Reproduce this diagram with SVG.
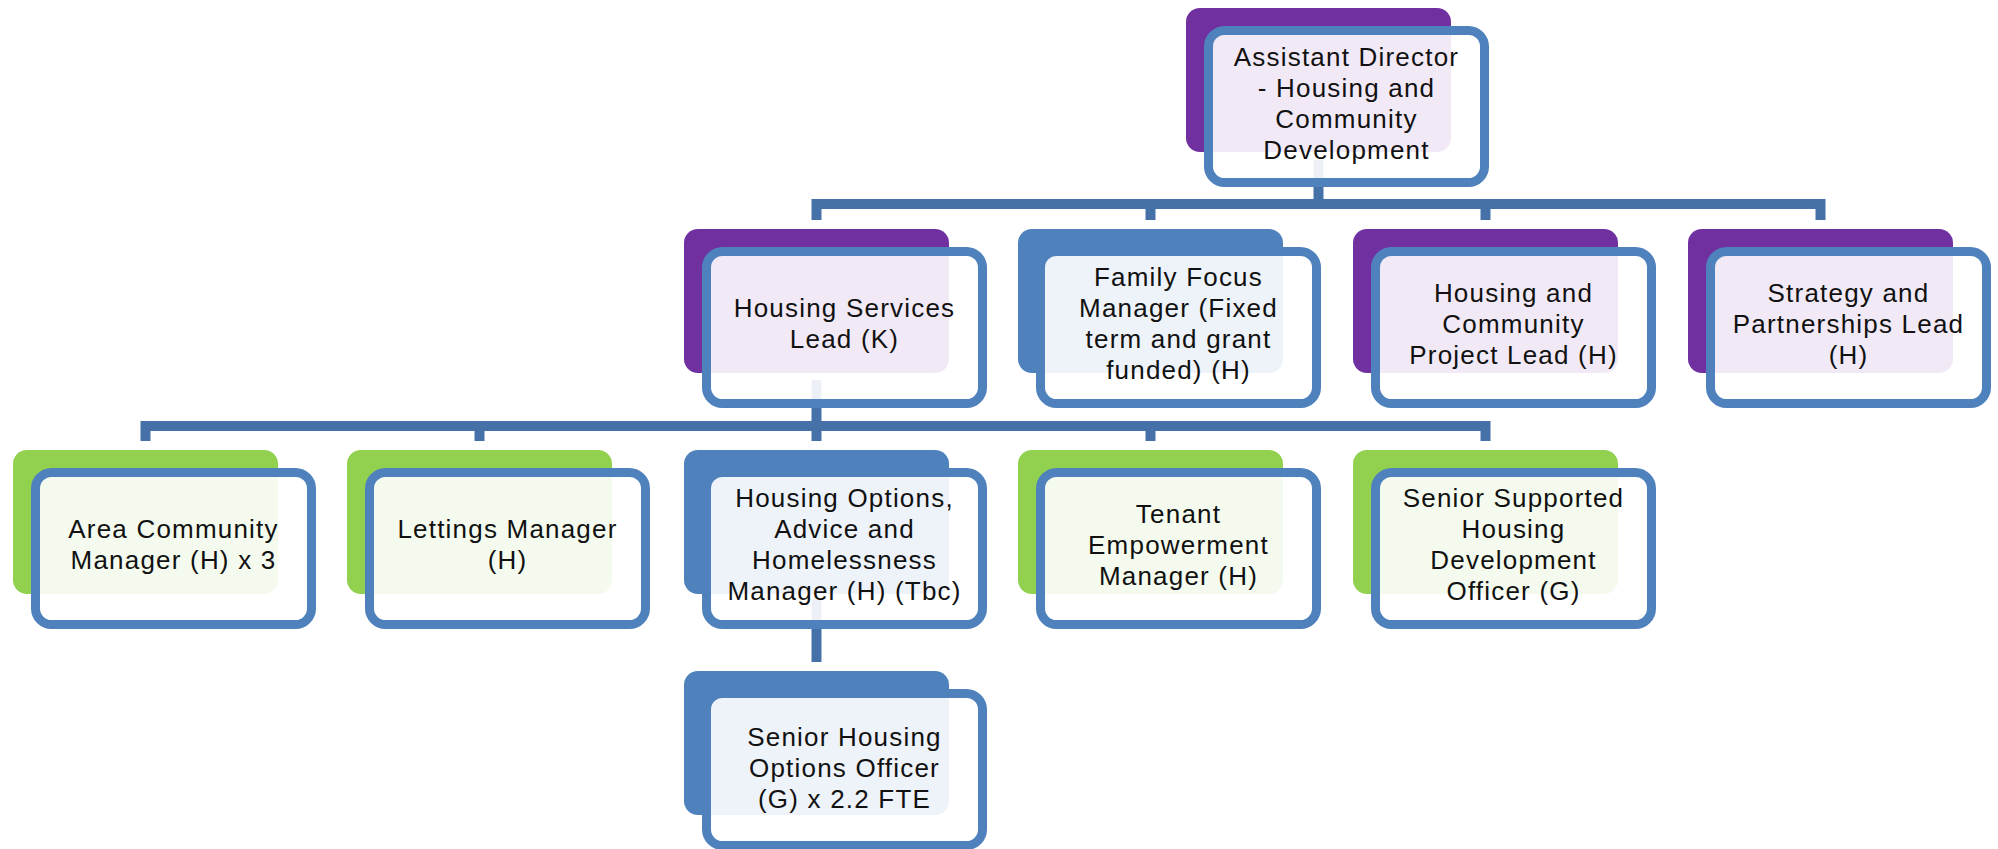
<svg xmlns="http://www.w3.org/2000/svg" width="1998" height="849" viewBox="0 0 1998 849">
<style>
.bg{fill:#ffffff}
.conn{fill:none;stroke:#4571A8;stroke-width:10;stroke-linejoin:miter;stroke-linecap:butt}
.back{stroke:none}
.purple{fill:#7030A0}
.blue{fill:#4F81BD}
.green{fill:#92D050}
.front{fill:#ffffff;fill-opacity:0.9;stroke:#4F81BD;stroke-width:9}
.lbl{font-family:"Liberation Sans",Arial,sans-serif;font-size:26px;letter-spacing:1.2px;fill:#111111;text-anchor:middle}
</style>
<rect class="bg" x="0" y="0" width="1998" height="849"/>
<g id="connectors">
<path class="conn" d="M1318.5,160 V204"/>
<path class="conn" d="M816.5,220 V204 H1820.5 V220"/>
<path class="conn" d="M1150.5,204 V220"/>
<path class="conn" d="M1485.5,204 V220"/>
<path class="conn" d="M816.5,380 V426"/>
<path class="conn" d="M145.5,441 V426 H1485.5 V441"/>
<path class="conn" d="M479.5,426 V441"/>
<path class="conn" d="M816.5,426 V441"/>
<path class="conn" d="M1150.5,426 V441"/>
<path class="conn" d="M816.5,600 V662"/>
</g>
<g id="node-assistant-director">
<rect class="back purple" x="1186" y="8" width="265" height="144" rx="14"/>
<rect class="front" x="1208.5" y="30.5" width="276" height="152" rx="16"/>
<text class="lbl"><tspan x="1346.5" y="66">Assistant Director</tspan><tspan x="1346.5" y="97">- Housing and</tspan><tspan x="1346.5" y="128">Community</tspan><tspan x="1346.5" y="159">Development</tspan></text>
</g>
<g id="node-housing-services-lead">
<rect class="back purple" x="684" y="229" width="265" height="144" rx="14"/>
<rect class="front" x="706.5" y="251.5" width="276" height="152" rx="16"/>
<text class="lbl"><tspan x="844.5" y="317">Housing Services</tspan><tspan x="844.5" y="348">Lead (K)</tspan></text>
</g>
<g id="node-family-focus-manager">
<rect class="back blue" x="1018" y="229" width="265" height="144" rx="14"/>
<rect class="front" x="1040.5" y="251.5" width="276" height="152" rx="16"/>
<text class="lbl"><tspan x="1178.5" y="286">Family Focus</tspan><tspan x="1178.5" y="317">Manager (Fixed</tspan><tspan x="1178.5" y="348">term and grant</tspan><tspan x="1178.5" y="379">funded) (H)</tspan></text>
</g>
<g id="node-housing-community-project-lead">
<rect class="back purple" x="1353" y="229" width="265" height="144" rx="14"/>
<rect class="front" x="1375.5" y="251.5" width="276" height="152" rx="16"/>
<text class="lbl"><tspan x="1513.5" y="301.5">Housing and</tspan><tspan x="1513.5" y="332.5">Community</tspan><tspan x="1513.5" y="363.5">Project Lead (H)</tspan></text>
</g>
<g id="node-strategy-partnerships-lead">
<rect class="back purple" x="1688" y="229" width="265" height="144" rx="14"/>
<rect class="front" x="1710.5" y="251.5" width="276" height="152" rx="16"/>
<text class="lbl"><tspan x="1848.5" y="301.5">Strategy and</tspan><tspan x="1848.5" y="332.5">Partnerships Lead</tspan><tspan x="1848.5" y="363.5">(H)</tspan></text>
</g>
<g id="node-area-community-manager">
<rect class="back green" x="13" y="450" width="265" height="144" rx="14"/>
<rect class="front" x="35.5" y="472.5" width="276" height="152" rx="16"/>
<text class="lbl"><tspan x="173.5" y="538">Area Community</tspan><tspan x="173.5" y="569">Manager (H) x 3</tspan></text>
</g>
<g id="node-lettings-manager">
<rect class="back green" x="347" y="450" width="265" height="144" rx="14"/>
<rect class="front" x="369.5" y="472.5" width="276" height="152" rx="16"/>
<text class="lbl"><tspan x="507.5" y="538">Lettings Manager</tspan><tspan x="507.5" y="569">(H)</tspan></text>
</g>
<g id="node-housing-options-manager">
<rect class="back blue" x="684" y="450" width="265" height="144" rx="14"/>
<rect class="front" x="706.5" y="472.5" width="276" height="152" rx="16"/>
<text class="lbl"><tspan x="844.5" y="507">Housing Options,</tspan><tspan x="844.5" y="538">Advice and</tspan><tspan x="844.5" y="569">Homelessness</tspan><tspan x="844.5" y="600">Manager (H) (Tbc)</tspan></text>
</g>
<g id="node-tenant-empowerment-manager">
<rect class="back green" x="1018" y="450" width="265" height="144" rx="14"/>
<rect class="front" x="1040.5" y="472.5" width="276" height="152" rx="16"/>
<text class="lbl"><tspan x="1178.5" y="522.5">Tenant</tspan><tspan x="1178.5" y="553.5">Empowerment</tspan><tspan x="1178.5" y="584.5">Manager (H)</tspan></text>
</g>
<g id="node-senior-supported-housing">
<rect class="back green" x="1353" y="450" width="265" height="144" rx="14"/>
<rect class="front" x="1375.5" y="472.5" width="276" height="152" rx="16"/>
<text class="lbl"><tspan x="1513.5" y="507">Senior Supported</tspan><tspan x="1513.5" y="538">Housing</tspan><tspan x="1513.5" y="569">Development</tspan><tspan x="1513.5" y="600">Officer (G)</tspan></text>
</g>
<g id="node-senior-housing-options-officer">
<rect class="back blue" x="684" y="671" width="265" height="144" rx="14"/>
<rect class="front" x="706.5" y="693.5" width="276" height="152" rx="16"/>
<text class="lbl"><tspan x="844.5" y="745.5">Senior Housing</tspan><tspan x="844.5" y="776.5">Options Officer</tspan><tspan x="844.5" y="807.5">(G) x 2.2 FTE</tspan></text>
</g>
</svg>
